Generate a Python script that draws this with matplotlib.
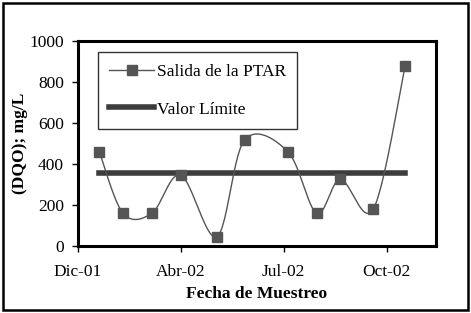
import numpy as np
import matplotlib
matplotlib.use("Agg")
import matplotlib.pyplot as plt
import matplotlib.dates as mdates
from matplotlib.patches import Rectangle

# data
fechas = ["2002-01-15", "2002-02-07", "2002-03-07", "2002-04-04", "2002-05-09",
          "2002-06-05", "2002-07-17", "2002-08-14", "2002-09-06", "2002-10-08",
          "2002-11-08"]
dqo = [460, 160, 160, 346, 45, 517, 460, 160, 325, 180, 880]
limite = 355
tick_fechas = ["2001-12-25", "2002-04-04", "2002-07-13", "2002-10-21"]
tick_labels = ["Dic-01", "Abr-02", "Jul-02", "Oct-02"]

plt.rcParams['font.family'] = ['Liberation Serif', 'DejaVu Serif']

x = mdates.datestr2num(fechas)
y = np.array(dqo, dtype=float)


def suave(x, y, n=30):
    # Excel-like smoothed line (cubic bezier, catmull-rom control points)
    px = np.concatenate([[x[0]], x, [x[-1]]])
    py = np.concatenate([[y[0]], y, [y[-1]]])
    xs, ys = [], []
    t = np.linspace(0, 1, n)
    for i in range(1, len(px) - 2):
        p0 = np.array([px[i], py[i]])
        p3 = np.array([px[i + 1], py[i + 1]])
        p1 = p0 + (np.array([px[i + 1], py[i + 1]]) - np.array([px[i - 1], py[i - 1]])) / 6
        p2 = p3 - (np.array([px[i + 2], py[i + 2]]) - np.array([px[i], py[i]])) / 6
        b = ((1 - t) ** 3)[:, None] * p0 + (3 * (1 - t) ** 2 * t)[:, None] * p1 \
            + (3 * (1 - t) * t ** 2)[:, None] * p2 + (t ** 3)[:, None] * p3
        xs.extend(b[:, 0])
        ys.extend(b[:, 1])
    return np.array(xs), np.array(ys)


fig = plt.figure(figsize=(4.71, 3.13), dpi=100)
ax = fig.add_axes([0.165, 0.214, 0.761, 0.655])

sx, sy = suave(x, y)
ax.plot(sx, sy, color='#555555', lw=1.0, zorder=3)
ax.plot(x, y, 's', color='#555555', ms=7.5, zorder=4)
ax.plot([x[0], x[-1]], [limite, limite], color='#3c3c3c', lw=4, zorder=2)

# legend proxies
ax.plot([], [], '-s', color='#555555', lw=1.0, ms=7.5, label='Salida de la PTAR')
ax.plot([], [], color='#3c3c3c', lw=4, label='Valor Límite')
h, l = ax.get_legend_handles_labels()
leg = ax.legend(h[-2:], l[-2:], loc='upper left', bbox_to_anchor=(0.056, 0.945),
                frameon=True, fancybox=False, edgecolor='black', fontsize=12.5,
                handlelength=2.6, handletextpad=0.15, labelspacing=1.25,
                borderpad=0.65, borderaxespad=0)
leg.get_frame().set_linewidth(1.0)

ax.set_ylim(0, 1000)
ax.set_yticks(range(0, 1001, 200))
ax.set_xlim(mdates.datestr2num("2001-12-25"), mdates.datestr2num("2002-12-08"))
ax.set_xticks(mdates.datestr2num(tick_fechas))
ax.set_xticklabels(tick_labels)

for s in ax.spines.values():
    s.set_linewidth(2.2)
ax.tick_params(direction='out', length=4, width=1, labelsize=12.5, pad=6)
ax.tick_params(axis='x', pad=9)

ax.set_xlabel('Fecha de Muestreo', fontsize=12.5, fontweight='bold', labelpad=4)
ax.set_ylabel('(DQO); mg/L', fontsize=12.5, fontweight='bold', labelpad=1)

fig.patches.append(Rectangle((0.006, 0.008), 0.988, 0.984, transform=fig.transFigure,
                             fill=False, edgecolor='black', lw=1.8))

fig.savefig('out.png', dpi=100)
